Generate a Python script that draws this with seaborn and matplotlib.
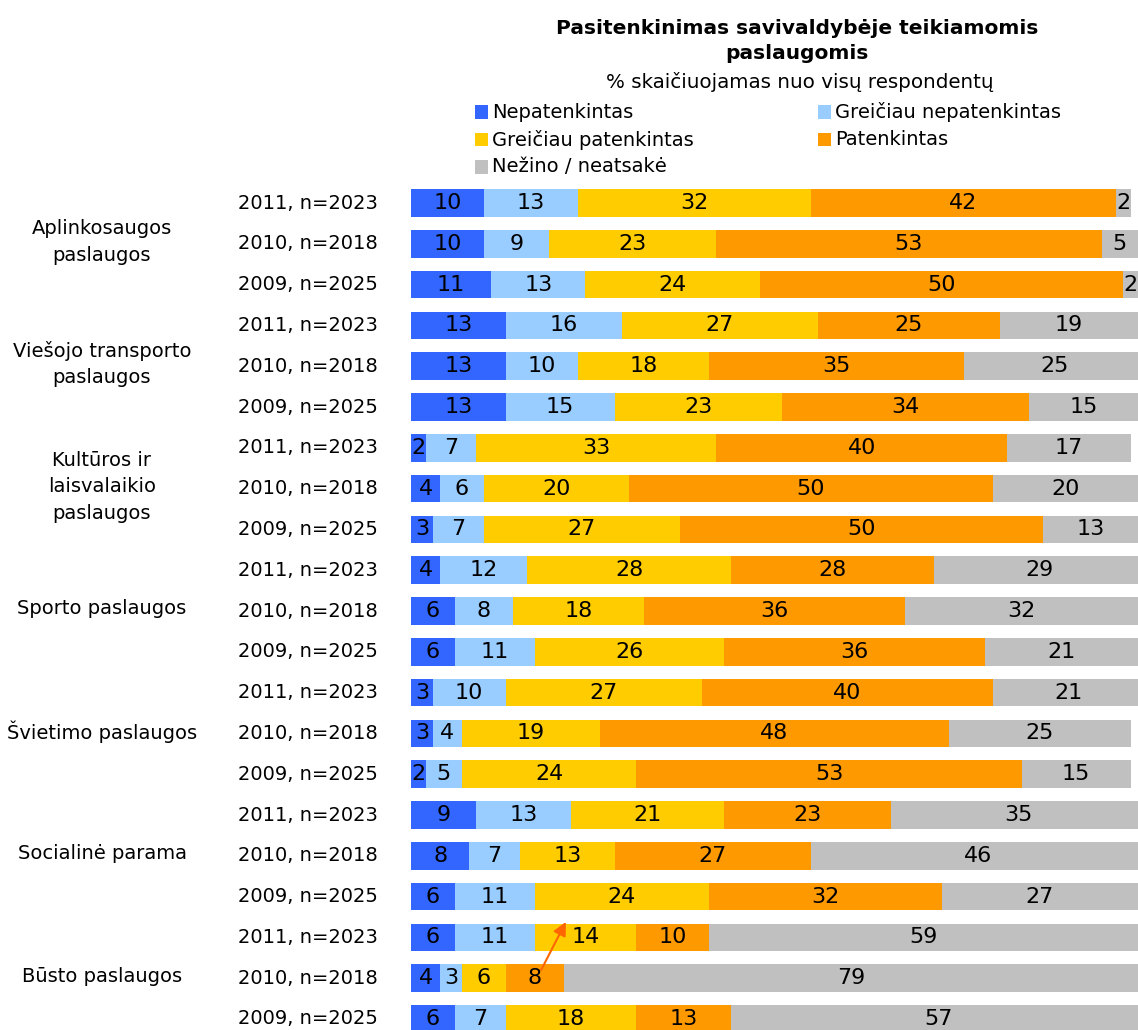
import matplotlib
matplotlib.use("Agg")
import matplotlib.pyplot as plt
from matplotlib.patches import Rectangle
import seaborn as sns
import numpy as np
import pandas as pd

# ---------------- data ----------------
groups = ["Aplinkosaugos\npaslaugos", "Viešojo transporto\npaslaugos",
          "Kultūros ir\nlaisvalaikio\npaslaugos", "Sporto paslaugos",
          "Švietimo paslaugos", "Socialinė parama", "Būsto paslaugos"]
year_labels = ["2011, n=2023", "2010, n=2018", "2009, n=2025"]

series_names = ["Nepatenkintas", "Greičiau nepatenkintas", "Greičiau patenkintas",
                "Patenkintas", "Nežino / neatsakė"]
series_colors = ["#3366FF", "#99CCFF", "#FFCC00", "#FF9900", "#C0C0C0"]

nepatenkintas = [10, 10, 11, 13, 13, 13, 2, 4, 3, 4, 6, 6, 3, 3, 2, 9, 8, 6, 6, 4, 6]
greiciau_nepatenkintas = [13, 9, 13, 16, 10, 15, 7, 6, 7, 12, 8, 11, 10, 4, 5, 13, 7, 11, 11, 3, 7]
greiciau_patenkintas = [32, 23, 24, 27, 18, 23, 33, 20, 27, 28, 18, 26, 27, 19, 24, 21, 13, 24, 14, 6, 18]
patenkintas = [42, 53, 50, 25, 35, 34, 40, 50, 50, 28, 36, 36, 40, 48, 53, 23, 27, 32, 10, 8, 13]
nezino = [2, 5, 2, 19, 25, 15, 17, 20, 13, 29, 32, 21, 21, 25, 15, 35, 46, 27, 59, 79, 57]

series = [nepatenkintas, greiciau_nepatenkintas, greiciau_patenkintas, patenkintas, nezino]

n_rows = len(nepatenkintas)
row_keys = [f"r{i:02d}" for i in range(n_rows)]
row_labels = [year_labels[i % 3] for i in range(n_rows)]

vals = np.array(series, dtype=float)          # 5 x rows
cum = np.cumsum(vals, axis=0)

# ---------------- figure ----------------
W, H = 1138, 1030
fig = plt.figure(figsize=(W / 100, H / 100), dpi=100)
plt.rcParams['font.family'] = ['DejaVu Sans']

ax_left, ax_right = 411, 1138
row_step = 40.8
top_px = 203 - row_step / 2
ax = fig.add_axes([ax_left / W, 0, (ax_right - ax_left) / W, (H - top_px) / H])

# stacked bars: draw cumulative totals from the outermost layer inwards
for k in reversed(range(5)):
    df = pd.DataFrame({"row": row_keys, "cum": cum[k]})
    sns.barplot(data=df, x="cum", y="row", order=row_keys, orient="h",
                color=series_colors[k], saturation=1, width=0.68,
                errorbar=None, linewidth=0, ax=ax)

# value labels
for k in range(5):
    for i in range(n_rows):
        v = vals[k, i]
        if v <= 0:
            continue
        x = cum[k, i] - v / 2
        ax.text(x, i, f"{int(v)}", ha="center", va="center", fontsize=16, color="black")

n_units = (H - top_px) / row_step
ax.set_ylim(-0.5 + n_units, -0.5)
ax.set_xlim(0, 100)
for s in ax.spines.values():
    s.set_visible(False)
ax.set_xticks([])
ax.set_xlabel("")
ax.set_ylabel("")
ax.set_yticks(range(n_rows))
ax.set_yticklabels(row_labels, fontsize=14, va="center")
ax.tick_params(axis="y", length=0, pad=24)

# group labels
gx = (102 - ax_left) / (ax_right - ax_left)
for g, name in enumerate(groups):
    ax.text(gx, 3 * g + 1 - 0.05, name, transform=ax.get_yaxis_transform(),
            ha="center", va="center", fontsize=14, linespacing=1.5, clip_on=False)

# arrow annotation (Būsto paslaugos)
ax.annotate("", xy=(21.3, 17.62), xytext=(17.9, 18.8),
            arrowprops=dict(arrowstyle="-|>", color="#FF6600", lw=1.5,
                            mutation_scale=20, shrinkA=0, shrinkB=0))

# title and subtitle
fig.text(797 / W, 1 - 41 / H, "Pasitenkinimas savivaldybėje teikiamomis\npaslaugomis",
         ha="center", va="center", fontsize=14.5, fontweight="bold", linespacing=1.4)
fig.text(800 / W, 1 - 82 / H, "% skaičiuojamas nuo visų respondentų",
         ha="center", va="center", fontsize=14.3)

# legend (row-major, two columns)
leg_x = [475, 818]
leg_y0, leg_dy = 112, 27.5
sq = 13
for i, (name, col) in enumerate(zip(series_names, series_colors)):
    r, c = divmod(i, 2)
    x = leg_x[c]
    y = leg_y0 + r * leg_dy
    fig.patches.append(Rectangle((x / W, 1 - (y + sq / 2) / H), sq / W, sq / H,
                                 transform=fig.transFigure, facecolor=col,
                                 edgecolor="none"))
    fig.text((x + sq + 4) / W, 1 - y / H, name, ha="left", va="center", fontsize=14)

fig.savefig("out.png", dpi=100)
